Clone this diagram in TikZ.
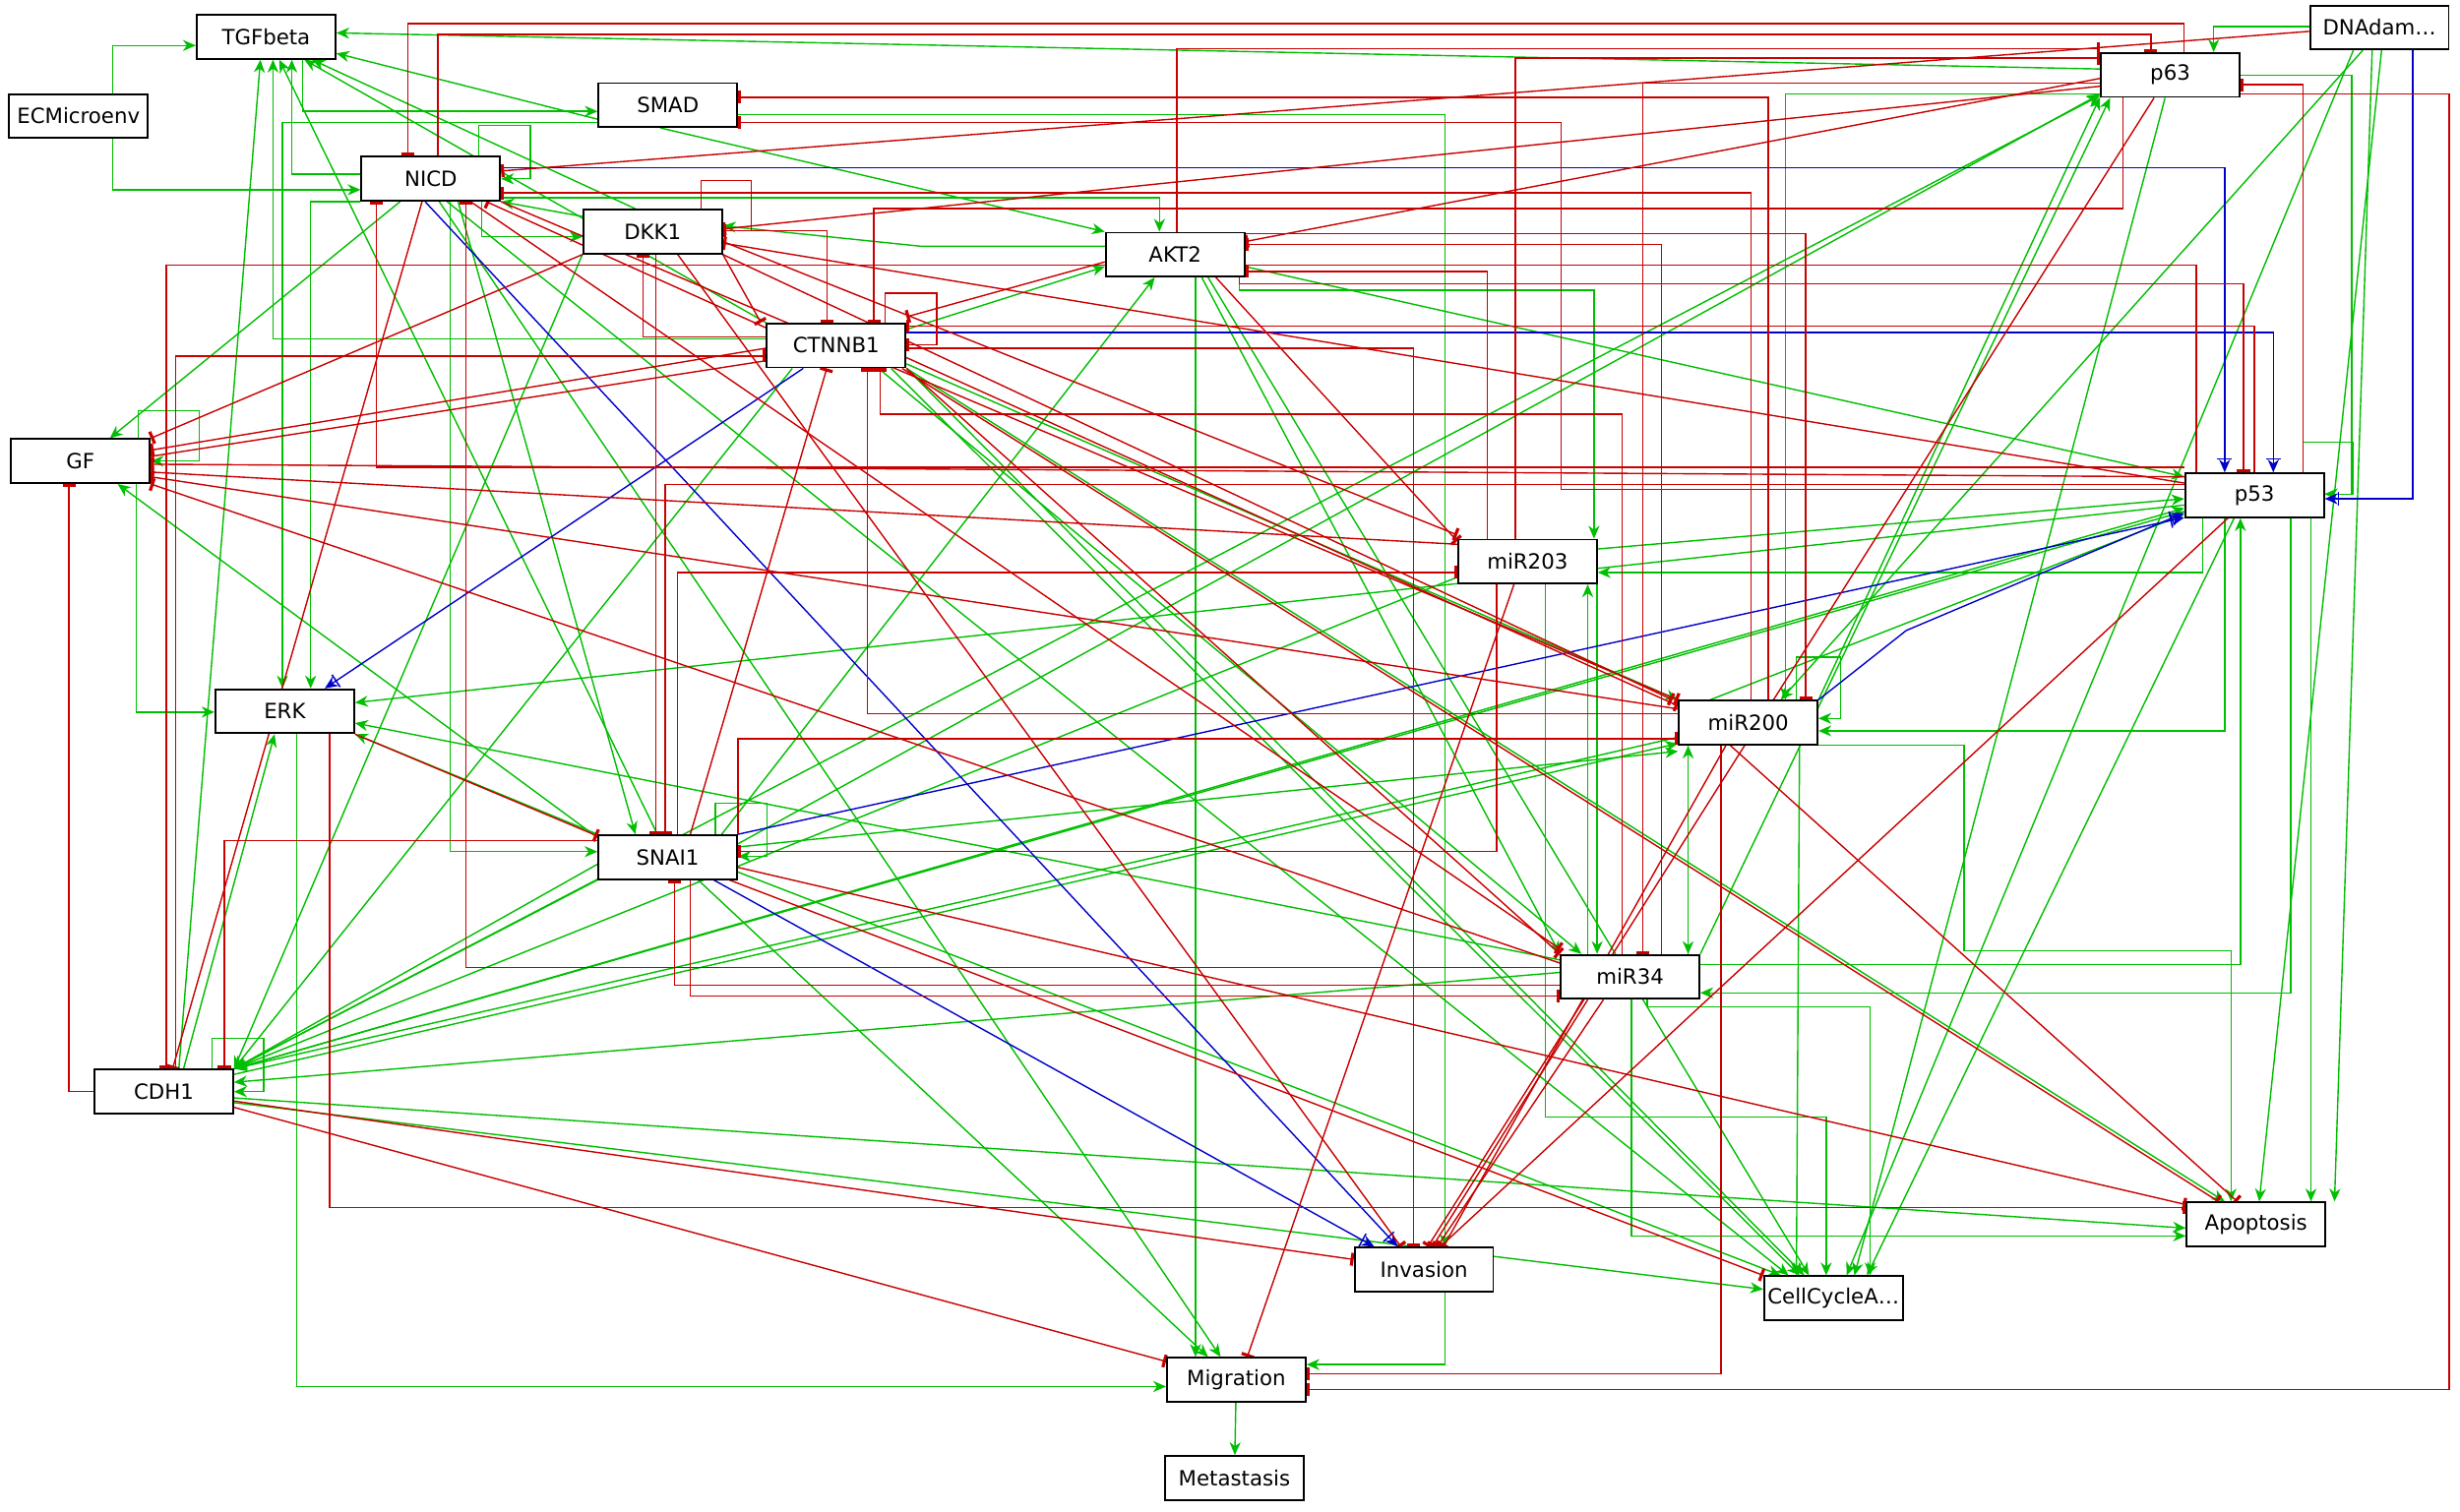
\documentclass[tikz,border=0pt]{standalone}
\usepackage{fontspec}
\setmainfont{DejaVu Sans}
\usetikzlibrary{arrows.meta,calc}
\pgfdeclarelayer{edges}
\pgfsetlayers{edges,main}
\definecolor{actgreen}{RGB}{0,190,0}
\definecolor{inhred}{RGB}{200,0,0}
\definecolor{dualblue}{RGB}{0,0,200}
\tikzset{
  act/.style={draw=actgreen, line width=0.75pt, -{Stealth[length=7pt,width=6pt,inset=2.2pt]}},
  inh/.style={draw=inhred, line width=0.75pt, -{Bar[width=7pt,line width=1.7pt]}},
  dual/.style={draw=dualblue, line width=0.75pt, -{Bar[width=8pt,line width=0.8pt]Stealth[length=7pt,width=6pt,inset=2.2pt]}},
  gene/.style={draw=black, line width=1pt, fill=white, minimum width=2.652cm,
    minimum height=0.84cm, inner sep=0pt, font=\fontsize{11.4}{13}\selectfont}
}
\begin{document}
\begin{tikzpicture}[x=0.03cm,y=-0.03cm]
\useasboundingbox (0,0) rectangle (1568,964);
% ---------------- nodes ----------------
\path
  (169.6,23.5)  node[gene] (tgf)  {TGFbeta}
  (50,74)       node[gene] (ecm)  {ECMicroenv}
  (425.7,67)    node[gene] (smad) {SMAD}
  (274.6,114)   node[gene] (nicd) {NICD}
  (416,147.7)   node[gene] (dkk)  {DKK1}
  (749,162.3)   node[gene] (akt)  {AKT2}
  (533,220.3)   node[gene] (ctn)  {CTNNB1}
  (51.3,294)    node[gene] (gf)   {GF}
  (181.5,453.5) node[gene] (erk)  {ERK}
  (425.6,546.5) node[gene] (snai) {SNAI1}
  (104.4,696)   node[gene] (cdh)  {CDH1}
  (973.6,358)   node[gene] (m203) {miR203}
  (1114.3,460.8) node[gene] (m200) {miR200}
  (1039,622.8)  node[gene] (m34)  {miR34}
  (1437,315.8)  node[gene] (p53)  {p53}
  (1383.3,47.8) node[gene] (p63)  {p63}
  (1516.6,17.5) node[gene] (dna)  {DNAdam…}
  (1438,780.6)  node[gene] (apo)  {Apoptosis}
  (1168.6,827.7) node[gene] (cca) {CellCycleA…}
  (907.6,809.5) node[gene] (inv)  {Invasion}
  (788,879.7)   node[gene] (mig)  {Migration}
  (786.8,942.3) node[gene] (met)  {Metastasis};
% ---------------- connectors, kept below the boxes ----------------
\begin{pgfonlayer}{edges}
% activations
\draw[act] (ecm.north -| 72,0) |- (tgf.west |- 0,29);
\draw[act] (ecm.south -| 72,0) |- (nicd.west |- 0,121);
\draw[act] (tgf.south -| 193,0) |- (smad.west |- 0,71);
\draw[act] (smad.west |- 0,76) -- (tgf.east |- 0,34);
\draw[act] (p63.west |- 0,44) -- (tgf.east |- 0,21);
\draw[act] (nicd.west |- 0,111) -| (tgf.south -| 186,0);
\draw[act] (ctn.west |- 0,216) -| (tgf.south -| 174,0);
\draw[act] (cdh.north -| 114,0) -- (tgf.south -| 166,0);
\draw[act] (snai.north -| 419,0) -- (tgf.south -| 178,0);
\draw[act] (dkk.north -| 405,0) -- (tgf.south -| 199,0);
\draw[act] (ctn.north west) -- (tgf.south -| 194,0);
\draw[act] (smad.west |- 0,78) -| (erk.north -| 180,0);
\draw[act] (smad.east |- 0,73) -| (inv.north -| 921,0);
\draw[act] (nicd.east |- 0,126) -| (akt.north -| 739,0);
\draw[act] (smad.south -| 421,0) -- (akt.north west);
\draw[act] (nicd.south west) -| (erk.north -| 198,0);
\draw[act] (nicd.south -| 255,0) -- (gf.north -| 70,0);
\draw[act] (inv.south -| 921,0) |- (mig.east |- 0,870);
\draw[act] (mig) -- (met);
\draw[act] (dna.west |- 0,17) -| (p63.north -| 1411,0);
\draw[act] (dna.south -| 1500,0) -- (cca.north -| 1177,0);
\draw[act] (dna.south -| 1518,0) -- (apo.north -| 1440,0);
\draw[act] (dna.south -| 1512,0) -- (apo.north -| 1488,0);
\draw[act] (dna.south -| 1506,0) -- (m200.north -| 1135,0);
\draw[act] (p63.east |- 0,48) -| (1499,315) -- (p53.east |- 0,315);
\draw[act] (p53.north -| 1468,0) |- (1500,282) |- (p53.east |- 0,315);
\draw[act] (p63.west |- 0,60) -| (m200.north -| 1138,0);
\draw[act] (snai.east |- 0,538) -- (p63.west |- 0,60);
\draw[act] (cdh.north east) -- (p63.west |- 0,61);
\draw[act] (m200.north east) -- (p63.west |- 0,62);
\draw[act] (m34.north east) -- (p63.south -| 1345,0);
\draw[act] (m200.north -| 1145,0) |- (1173,419) |- (m200.east |- 0,458);
\draw[act] (p53.south -| 1418,0) |- (m200.east |- 0,466);
\draw[act] (p53.south -| 1460,0) |- (m34.east |- 0,633);
\draw[act] (m34.east |- 0,615) -| (p53.south -| 1428,0);
\draw[act] (m200.east |- 0,475) -| (1252,606) -| (apo.north -| 1422,0);
\draw[act] (p53.south -| 1473,0) -- (apo.north -| 1473,0);
\draw[act] (p53.south -| 1424,0) -- (cca.north -| 1190,0);
\draw[act] (p63.south -| 1380,0) -- (cca.north -| 1182,0);
\draw[act] (akt.south -| 762,0) -- (mig.north -| 762,0);
\draw[act] (snai.south -| 445,0) -- (mig.north -| 770,0);
\draw[act] (nicd.south -| 280,0) -- (mig.north -| 778,0);
\draw[act] (erk.south -| 189,0) |- (mig.west |- 0,884);
\draw[act] (cdh.east |- 0,700) -- (apo.west |- 0,783);
\draw[act] (cdh.east |- 0,703) -- (cca.west |- 0,822);
\draw[act] (m34.south -| 1040,0) |- (apo.west |- 0,788);
\draw[act] (m34.south -| 1050,0) |- (1192,642) -- (cca.north -| 1192,0);
\draw[act] (m203.south -| 985,0) |- (1164,712) -- (cca.north -| 1164,0);
\draw[act] (m203.south -| 1018,0) -- (m34.north -| 1018,0);
\draw[act] (m34.north -| 1012,0) -- (m203.south -| 1012,0);
\draw[act] (m200.south -| 1076,0) -- (m34.north -| 1076,0);
\draw[act] (m34.north -| 1076,0) -- (m200.south -| 1076,0);
\draw[act] (gf.south -| 87,0) |- (erk.west |- 0,454);
\draw[act] (gf.north -| 88,0) |- (127,262) |- (gf.east |- 0,294);
\draw[act] (snai.north -| 456,0) |- (489,512) |- (snai.east |- 0,546);
\draw[act] (nicd.north -| 305,0) |- (338,80) |- (nicd.east |- 0,114);
\draw[act] (cdh.north -| 135,0) |- (168,662) |- (cdh.east |- 0,696);
\draw[act] (nicd.south -| 307,0) |- (dkk.west |- 0,151);
\draw[act] (dkk.west |- 0,138) -- (nicd.south east);
\draw[act] (nicd.south -| 287,0) |- (snai.west |- 0,543);
\draw[act] (nicd.south -| 292,0) -- (snai.north -| 405,0);
\draw[act] (p53.west |- 0,322) -- (erk.east |- 0,448);
\draw[act] (m34.west |- 0,612) -- (erk.east |- 0,461);
\draw[act] (snai.north west) -- (erk.south east);
\draw[act] (cdh.north -| 117,0) -- (erk.south -| 175,0);
\draw[act] (snai.west |- 0,534) -- (gf.south -| 75,0);
\draw[act] (snai.west |- 0,551) -- (cdh.north east);
\draw[act] (snai.south west) -- (cdh.north east);
\draw[act] (m200.west |- 0,470) -- (cdh.north east);
\draw[act] (m203.west |- 0,368) -- (cdh.north east);
\draw[act] (m34.west |- 0,620) -- (cdh.east |- 0,690);
\draw[act] (p53.west |- 0,326) -- (cdh.north east);
\draw[act] (ctn.south -| 505,0) -- (cdh.north east);
\draw[act] (dkk.south west) -- (cdh.north east);
\draw[act] (ctn.east |- 0,210) -- (akt.west |- 0,170);
\draw[act] (akt.east |- 0,170) -- (p53.west |- 0,304);
\draw[act] (m203.east |- 0,350) -- (p53.west |- 0,318);
\draw[act] (p53.south -| 1404,0) |- (m203.east |- 0,365);
\draw[act] (m200.north -| 1090,0) -- (p53.west |- 0,328);
\draw[act] (cdh.north east) -- (p53.west |- 0,324);
\draw[act] (ctn.east |- 0,232) -- (m200.north west);
\draw[act] (ctn.south -| 560,0) -- (m34.north -| 1008,0);
\draw[act] (ctn.south -| 568,0) -- (cca.north -| 1147,0);
\draw[act] (ctn.south east) -- (cca.north -| 1150,0);
\draw[act] (ctn.south east) -- (apo.north -| 1418,0);
\draw[act] (akt.south -| 770,0) -- (cca.north -| 1153,0);
\draw[act] (nicd.south -| 285,0) -- (cca.north -| 1140,0);
\draw[act] (snai.east |- 0,556) -- (cca.north -| 1135,0);
\draw[act] (m200.south -| 1147,0) -- (cca.north -| 1145,0);
\draw[act] (snai.north -| 460,0) -- (akt.south -| 736,0);
\draw[act] (akt.west |- 0,157) -- (587,157) -- (dkk.east |- 0,144);
\draw[act] (akt.south -| 790,0) |- (1016,185) -- (m203.north -| 1016,0);
\draw[act] (akt.south -| 766,0) -- (m34.north west);
\draw[act] (snai.east |- 0,540) -- (m200.west |- 0,479);
\draw[act] (cdh.east |- 0,685) -- (m200.west |- 0,474);
% dual interactions
\draw[dual] (nicd.east |- 0,107) -| (p53.north -| 1418,0);
\draw[dual] (ctn.east |- 0,212) -| (p53.north -| 1449,0);
\draw[dual] (dna.south -| 1538,0) |- (p53.east |- 0,318);
\draw[dual] (snai.north east) -- (p53.west |- 0,330);
\draw[dual] (m200.north east) -- (1215,402) -- (p53.west |- 0,327);
\draw[dual] (ctn.south -| 512,0) -- (erk.north -| 207,0);
\draw[dual] (nicd.south -| 271,0) -- (inv.north -| 891,0);
\draw[dual] (snai.south -| 455,0) -- (inv.north -| 876,0);
% inhibitions
\draw[inh] (p63.north -| 1392,0) |- (260,15) -- (nicd.north -| 260,0);
\draw[inh] (nicd.north -| 279,0) |- (1371,22) -- (p63.north -| 1371,0);
\draw[inh] (akt.north -| 750,0) |- (p63.west |- 0,31);
\draw[inh] (m203.north -| 966,0) |- (p63.west |- 0,37);
\draw[inh] (dna.west |- 0,20) -- (nicd.east |- 0,109);
\draw[inh] (m200.north -| 1127,0) |- (smad.east |- 0,62);
\draw[inh] (p53.west |- 0,312) -| (995,78) -- (smad.east |- 0,78);
\draw[inh] (p63.west |- 0,53) -| (m34.north -| 1047,0);
\draw[inh] (m34.north -| 1059,0) |- (akt.east |- 0,156);
\draw[inh] (p63.west |- 0,50) -- (akt.east |- 0,154);
\draw[inh] (p63.west |- 0,55) -- (dkk.east |- 0,146);
\draw[inh] (p53.west |- 0,308) -- (dkk.east |- 0,155);
\draw[inh] (akt.east |- 0,149) -| (m200.north -| 1151,0);
\draw[inh] (m200.north -| 1116,0) |- (nicd.east |- 0,123);
\draw[inh] (p53.north -| 1400,0) |- (106,169) -- (cdh.north -| 106,0);
\draw[inh] (akt.south -| 790,0) |- (1430,181) -- (p53.north -| 1430,0);
\draw[inh] (m203.north -| 948,0) |- (akt.east |- 0,173);
\draw[inh] (p53.north -| 1437,0) |- (ctn.east |- 0,208);
\draw[inh] (p53.north -| 1468,0) |- (p63.east |- 0,54);
\draw[inh] (p63.east |- 0,60) -| (1561,886) -- (mig.east |- 0,886);
\draw[inh] (m200.south -| 1097,0) |- (mig.east |- 0,876);
\draw[inh] (p53.west |- 0,298) -| (nicd.south -| 240,0);
\draw[inh] (m34.west |- 0,617) -| (nicd.south -| 297,0);
\draw[inh] (nicd.south -| 269,0) -- (cdh.north -| 110,0);
\draw[inh] (cdh.north -| 112,0) |- (ctn.west |- 0,227);
\draw[inh] (snai.west |- 0,536) -| (cdh.north -| 143,0);
\draw[inh] (cdh.west |- 0,696) -| (gf.south -| 44,0);
\draw[inh] (ctn.west |- 0,222) -- (gf.east |- 0,287);
\draw[inh] (ctn.west |- 0,230) -- (gf.east |- 0,291);
\draw[inh] (p53.west |- 0,304) -- (gf.east |- 0,296);
\draw[inh] (m203.west |- 0,347) -- (gf.east |- 0,301);
\draw[inh] (m34.west |- 0,614) -- (gf.south east);
\draw[inh] (m200.west |- 0,452) -- (gf.east |- 0,304);
\draw[inh] (dkk.south west) -- (gf.north east);
\draw[inh] (erk.south -| 210,0) |- (apo.west |- 0,770);
\draw[inh] (snai.east |- 0,553) -- (apo.west |- 0,768);
\draw[inh] (cdh.east |- 0,702) -- (inv.west |- 0,803);
\draw[inh] (cdh.east |- 0,706) -- (mig.west |- 0,868);
\draw[inh] (m203.south -| 965,0) -- (mig.north -| 795,0);
\draw[inh] (p53.south -| 1420,0) -- (inv.north -| 918,0);
\draw[inh] (p63.south -| 1373,0) -- (inv.north -| 910,0);
\draw[inh] (m34.south -| 1012,0) -- (inv.north -| 913,0);
\draw[inh] (m34.south -| 1022,0) -- (inv.north -| 916,0);
\draw[inh] (m200.south -| 1100,0) -- (inv.north -| 920,0);
\draw[inh] (ctn.east |- 0,222) -| (inv.north -| 901,0);
\draw[inh] (dkk.south -| 432,0) -- (inv.north -| 893,0);
\draw[inh] (snai.north -| 432,0) |- (m203.west |- 0,365);
\draw[inh] (m203.south -| 954,0) |- (snai.east |- 0,543);
\draw[inh] (dkk.east |- 0,154) -- (m203.west |- 0,341);
\draw[inh] (akt.south -| 775,0) -- (m203.west |- 0,345);
\draw[inh] (m34.north -| 1034,0) |- (561,264) -- (ctn.south -| 561,0);
\draw[inh] (m200.west |- 0,455) -| (ctn.south -| 553,0);
\draw[inh] (p63.south -| 1353,0) |- (557,133) -- (ctn.north -| 557,0);
\draw[inh] (dkk.east |- 0,147) -| (ctn.north -| 527,0);
\draw[inh] (dkk.south east) -- (ctn.north -| 485,0);
\draw[inh] (ctn.west |- 0,215) -| (dkk.south -| 410,0);
\draw[inh] (dkk.south -| 418,0) -- (snai.north -| 418,0);
\draw[inh] (p53.west |- 0,309) -| (snai.north -| 424,0);
\draw[inh] (snai.north -| 440,0) -- (ctn.south -| 527,0);
\draw[inh] (dkk.north -| 447,0) |- (479,115) |- (dkk.east |- 0,147);
\draw[inh] (ctn.north -| 564,0) |- (597,187) |- (ctn.east |- 0,220);
\draw[inh] (akt.west |- 0,167) -- (ctn.east |- 0,202);
\draw[inh] (ctn.west |- 0,209) -- (nicd.south -| 310,0);
\draw[inh] (ctn.east |- 0,228) -- (m200.west |- 0,450);
\draw[inh] (dkk.south east) -- (m200.north -| 1066,0);
\draw[inh] (nicd.south east) -- (m200.north west);
\draw[inh] (ctn.south east) -- (m34.north west);
\draw[inh] (nicd.south -| 300,0) -- (m34.west |- 0,605);
\draw[inh] (snai.south -| 440,0) |- (m34.west |- 0,635);
\draw[inh] (m34.west |- 0,628) -| (snai.south -| 430,0);
\draw[inh] (snai.north east) |- (m200.west |- 0,471);
\draw[inh] (snai.south -| 465,0) -- (cca.north west);
\draw[inh] (ctn.south -| 575,0) -- (apo.north -| 1414,0);
\draw[inh] (m200.south -| 1103,0) -- (apo.north -| 1426,0);
\draw[inh] (erk.south east) -- (snai.west |- 0,533);
\end{pgfonlayer}
\end{tikzpicture}
\end{document}
